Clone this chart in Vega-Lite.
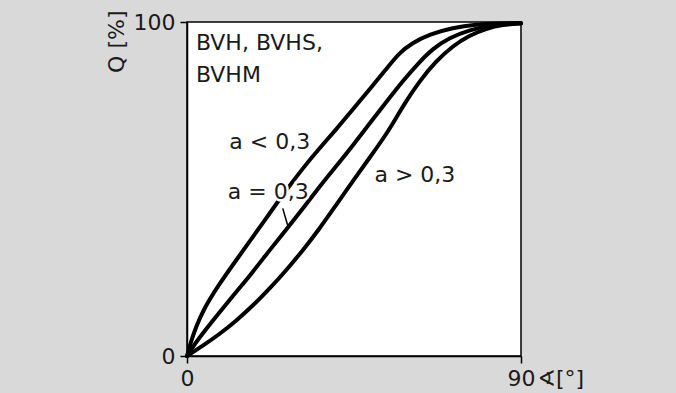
{
  "$schema": "https://vega.github.io/schema/vega-lite/v6.json",
  "width": 334,
  "height": 334,
  "autosize": {"type": "none"},
  "padding": {"left": 187, "top": 22, "right": 155, "bottom": 37},
  "background": "#d9d9d9",
  "datasets": {
    "curves": [
      {"curve": "lt", "v": 0, "q": 0}, {"curve": "lt", "v": 1.1, "q": 4.5}, {"curve": "lt", "v": 2.4, "q": 8.5}, {"curve": "lt", "v": 4.2, "q": 13.5}, {"curve": "lt", "v": 8.7, "q": 21.6}, {"curve": "lt", "v": 13.2, "q": 28.6}, {"curve": "lt", "v": 17.7, "q": 35.6}, {"curve": "lt", "v": 22.2, "q": 42.6}, {"curve": "lt", "v": 26.7, "q": 49.6}, {"curve": "lt", "v": 31.2, "q": 56.2}, {"curve": "lt", "v": 35.7, "q": 62.2}, {"curve": "lt", "v": 40.1, "q": 67.7}, {"curve": "lt", "v": 44.6, "q": 73.7}, {"curve": "lt", "v": 49.1, "q": 79.7}, {"curve": "lt", "v": 53.6, "q": 85.8}, {"curve": "lt", "v": 57.2, "q": 90.8}, {"curve": "lt", "v": 60.8, "q": 93.8}, {"curve": "lt", "v": 65.3, "q": 96.3}, {"curve": "lt", "v": 71.6, "q": 98.3}, {"curve": "lt", "v": 77.9, "q": 99.3}, {"curve": "lt", "v": 84.1, "q": 99.6}, {"curve": "lt", "v": 90, "q": 99.6},
      {"curve": "eq", "v": 0, "q": 0}, {"curve": "eq", "v": 2.0, "q": 3.5}, {"curve": "eq", "v": 5.1, "q": 8.0}, {"curve": "eq", "v": 8.7, "q": 13.0}, {"curve": "eq", "v": 13.2, "q": 19.1}, {"curve": "eq", "v": 17.7, "q": 25.1}, {"curve": "eq", "v": 22.2, "q": 31.6}, {"curve": "eq", "v": 26.7, "q": 37.8}, {"curve": "eq", "v": 31.2, "q": 44.1}, {"curve": "eq", "v": 35.7, "q": 50.7}, {"curve": "eq", "v": 40.1, "q": 56.7}, {"curve": "eq", "v": 44.6, "q": 62.9}, {"curve": "eq", "v": 49.1, "q": 69.5}, {"curve": "eq", "v": 53.6, "q": 75.9}, {"curve": "eq", "v": 58.1, "q": 82.3}, {"curve": "eq", "v": 62.6, "q": 88.0}, {"curve": "eq", "v": 66.2, "q": 92.0}, {"curve": "eq", "v": 70.7, "q": 95.3}, {"curve": "eq", "v": 76.1, "q": 97.6}, {"curve": "eq", "v": 82.4, "q": 99.3}, {"curve": "eq", "v": 90, "q": 99.6},
      {"curve": "gt", "v": 0, "q": 0}, {"curve": "gt", "v": 4.2, "q": 3.0}, {"curve": "gt", "v": 8.7, "q": 6.5}, {"curve": "gt", "v": 13.2, "q": 10.5}, {"curve": "gt", "v": 17.7, "q": 15.0}, {"curve": "gt", "v": 22.2, "q": 20.1}, {"curve": "gt", "v": 26.7, "q": 25.6}, {"curve": "gt", "v": 31.2, "q": 31.6}, {"curve": "gt", "v": 35.7, "q": 38.1}, {"curve": "gt", "v": 40.1, "q": 45.1}, {"curve": "gt", "v": 44.6, "q": 52.2}, {"curve": "gt", "v": 49.1, "q": 59.2}, {"curve": "gt", "v": 53.6, "q": 66.2}, {"curve": "gt", "v": 56.3, "q": 71.2}, {"curve": "gt", "v": 59.0, "q": 76.2}, {"curve": "gt", "v": 62.6, "q": 82.2}, {"curve": "gt", "v": 67.1, "q": 88.3}, {"curve": "gt", "v": 71.6, "q": 92.8}, {"curve": "gt", "v": 76.1, "q": 96.0}, {"curve": "gt", "v": 80.6, "q": 98.0}, {"curve": "gt", "v": 85.0, "q": 99.2}, {"curve": "gt", "v": 90, "q": 99.6}
    ],
    "labels": [
      {"text": "BVH, BVHS,", "v": 2.4, "q": 91.6, "halo": false},
      {"text": "BVHM", "v": 2.4, "q": 82.1, "halo": false},
      {"text": "a < 0,3", "v": 11.4, "q": 61.9, "halo": true},
      {"text": "a = 0,3", "v": 11.0, "q": 47.0, "halo": true},
      {"text": "a > 0,3", "v": 50.5, "q": 52.2, "halo": true}
    ],
    "leader": [
      {"v": 25.8, "q": 44.2, "v2": 27.1, "q2": 39.2}
    ]
  },
  "layer": [
    {
      "data": {"name": "curves"},
      "mark": {"type": "line", "color": "black", "strokeWidth": 4, "interpolate": "basis", "strokeCap": "round"},
      "encoding": {
        "x": {"field": "v", "type": "quantitative", "scale": {"domain": [0, 90], "nice": false}, "axis": {"values": [0, 90], "title": "∢[°]", "titleX": 350, "titleY": 22, "titleAlign": "left", "titleBaseline": "middle", "titleAngle": 0, "labelFlush": false, "labelPadding": 5}},
        "y": {"field": "q", "type": "quantitative", "scale": {"domain": [0, 100], "nice": false}, "axis": {"values": [0, 100], "title": "Q [%]", "titleX": -71, "titleY": -12, "titleAngle": -90, "titleAlign": "right", "titleBaseline": "middle", "labelPadding": 5}},
        "detail": {"field": "curve"}
      }
    },
    {
      "data": {"name": "labels"},
      "transform": [{"filter": "datum.halo"}],
      "mark": {"type": "text", "align": "left", "baseline": "alphabetic", "font": "DejaVu Sans", "fontSize": 22, "stroke": "white", "strokeWidth": 5, "fill": "white"},
      "encoding": {
        "x": {"field": "v", "type": "quantitative"},
        "y": {"field": "q", "type": "quantitative"},
        "text": {"field": "text"}
      }
    },
    {
      "data": {"name": "labels"},
      "mark": {"type": "text", "align": "left", "baseline": "alphabetic", "font": "DejaVu Sans", "fontSize": 22, "color": "#1a1a1a"},
      "encoding": {
        "x": {"field": "v", "type": "quantitative"},
        "y": {"field": "q", "type": "quantitative"},
        "text": {"field": "text"}
      }
    },
    {
      "data": {"name": "leader"},
      "mark": {"type": "rule", "color": "black", "strokeWidth": 1.5},
      "encoding": {
        "x": {"field": "v", "type": "quantitative"},
        "y": {"field": "q", "type": "quantitative"},
        "x2": {"field": "v2"},
        "y2": {"field": "q2"}
      }
    }
  ],
  "config": {
    "view": {"fill": "white", "stroke": "black", "strokeWidth": 1.5},
    "axis": {
      "grid": false,
      "domainColor": "black",
      "domainWidth": 1.5,
      "tickColor": "black",
      "tickWidth": 1.5,
      "tickSize": 7,
      "labelFont": "DejaVu Sans",
      "labelFontSize": 22,
      "labelColor": "#1a1a1a",
      "titleFont": "DejaVu Sans",
      "titleFontSize": 22,
      "titleFontWeight": "normal",
      "titleColor": "#1a1a1a"
    }
  }
}
